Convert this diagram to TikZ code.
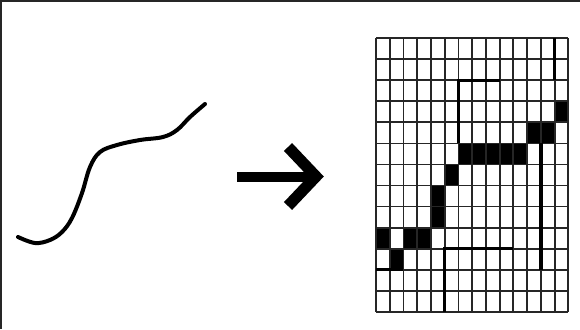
\documentclass[tikz,border=0pt]{standalone}
\begin{document}
\begin{tikzpicture}[x=0.75pt,y=-0.75pt,
  gridline/.style={line width=1.4pt,draw=black!85},
  thickline/.style={line width=2.6pt,draw=black},
  cell/.style={fill=black},
  framel/.style={line width=1.3pt,draw=black!85},
  curve/.style={line width=3pt,line cap=round,line join=round},
  shaft/.style={line width=7.5pt},
  head/.style={line width=8.5pt,line join=miter}]
\useasboundingbox (0,0) rectangle (580,329);
% frame (top and left edges)
\draw[framel] (1,329) -- (1,1) -- (580,1);
% hand-drawn curve
\draw[curve] plot[smooth,tension=0.6] coordinates {(18,237) (35,243) (50,240) (62,232) (72,218) (82,193) (90,167) (100,152) (117,145) (140,140) (163,137) (177,130) (190,117) (205,104)};
% arrow
\coordinate (as) at (237,176.7);
\coordinate (ae) at (313,176.7);
\draw[shaft] (as) -- (ae);
\coordinate (ht) at (288,147);
\coordinate (ha) at (316,176.5);
\coordinate (hb) at (288,206);
\draw[head] (ht) -- (ha) -- (hb);
% grid geometry
\def\gx{376}\def\gdx{13.74}\def\gy{38.3}\def\gdy{21.03}
% filled cells (col,row)
\foreach \c/\r in {13/3, 11/4, 12/4, 6/5, 7/5, 8/5, 9/5, 10/5, 5/6, 4/7, 4/8, 0/9, 2/9, 3/9, 1/10}
  \fill[cell] ({\gx+\c*\gdx},{\gy+\r*\gdy}) rectangle ({\gx+(\c+1)*\gdx},{\gy+(\r+1)*\gdy});
% grid lines
\foreach \i in {0,...,14}
  \draw[gridline] ({\gx+\i*\gdx},\gy) -- ({\gx+\i*\gdx},{\gy+13*\gdy});
\foreach \j in {0,...,13}
  \draw[gridline] (\gx,{\gy+\j*\gdy}) -- ({\gx+14*\gdx},{\gy+\j*\gdy});
% heavier traced segments
\draw[thickline] ({\gx+13*\gdx},\gy) -- ({\gx+13*\gdx},{\gy+2*\gdy});
\draw[thickline] ({\gx+9*\gdx},{\gy+2*\gdy}) -- ({\gx+6*\gdx},{\gy+2*\gdy}) -- ({\gx+6*\gdx},{\gy+5*\gdy});
\draw[thickline] ({\gx+12*\gdx},{\gy+5*\gdy}) -- ({\gx+12*\gdx},{\gy+11*\gdy});
\draw[thickline] ({\gx+10*\gdx},{\gy+10*\gdy}) -- ({\gx+5*\gdx},{\gy+10*\gdy}) -- ({\gx+5*\gdx},{\gy+13*\gdy});
\draw[thickline] (\gx,{\gy+11*\gdy}) -- ({\gx+2*\gdx},{\gy+11*\gdy});
\end{tikzpicture}
\end{document}
